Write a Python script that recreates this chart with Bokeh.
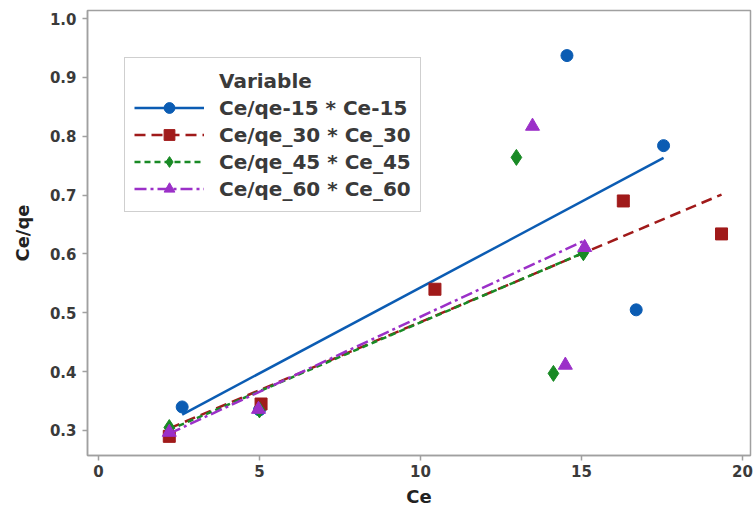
import numpy as np
from bokeh.plotting import figure
from bokeh.models import Range1d, FixedTicker, Legend, LegendItem, NumeralTickFormatter
from bokeh.embed import file_html
from bokeh.resources import INLINE

# Data
ce_15 = [2.6, 5.0, 14.55, 16.7, 17.55]
cq_15 = [0.340, 0.335, 0.937, 0.505, 0.784]
ce_30 = [2.2, 5.05, 10.45, 16.3, 19.35]
cq_30 = [0.290, 0.345, 0.540, 0.690, 0.634]
ce_45 = [2.2, 5.0, 12.98, 14.13, 15.06]
cq_45 = [0.305, 0.335, 0.764, 0.397, 0.602]
ce_60 = [2.2, 4.97, 13.48, 14.5, 15.1]
cq_60 = [0.297, 0.336, 0.817, 0.411, 0.611]
labels = ["Ce/qe-15 * Ce-15", "Ce/qe_30 * Ce_30", "Ce/qe_45 * Ce_45", "Ce/qe_60 * Ce_60"]
legend_title = "Variable"
x_ticks = [0, 5, 10, 15, 20]
y_ticks = [0.3, 0.4, 0.5, 0.6, 0.7, 0.8, 0.9, 1.0]

FONT = "DejaVu Sans"
TXT = "#3a3a3a"

p = figure(width=754, height=511, output_backend="svg", toolbar_location=None,
           x_range=Range1d(-0.34, 20.25), y_range=Range1d(0.2575, 1.0136),
           min_border_left=87, min_border_right=4, min_border_top=10, min_border_bottom=56)
p.xgrid.visible = False
p.ygrid.visible = False
p.outline_line_color = "#a0a0a0"
p.outline_line_width = 1.5

for ax in (p.xaxis[0], p.yaxis[0]):
    ax.axis_line_color = "#a0a0a0"
    ax.axis_line_width = 1.5
    ax.major_tick_line_color = "#a0a0a0"
    ax.major_tick_line_width = 1.5
    ax.major_tick_out = 5
    ax.major_tick_in = 0
    ax.minor_tick_line_color = None
    ax.major_label_text_font = FONT
    ax.major_label_text_font_style = "bold"
    ax.major_label_text_font_size = "15px"
    ax.major_label_text_color = TXT
    ax.axis_label_text_font = FONT
    ax.axis_label_text_font_style = "bold"
    ax.axis_label_text_font_size = "18px"
    ax.axis_label_text_color = "#222222"

p.xaxis.ticker = FixedTicker(ticks=x_ticks)
p.yaxis.ticker = FixedTicker(ticks=y_ticks)
p.yaxis.formatter = NumeralTickFormatter(format="0.0")
p.xaxis.axis_label = "Ce"
p.yaxis.axis_label = "Ce/qe"
p.yaxis.axis_label_standoff = 14
p.xaxis.axis_label_standoff = 6
p.xaxis.major_label_standoff = 4
p.yaxis.major_label_standoff = 6

series = [
    (ce_15, cq_15, "#0b5cb3", "solid", "circle", 12),
    (ce_30, cq_30, "#a01a1a", "11 6", "square", 12),
    (ce_45, cq_45, "#198a25", "6 4", "diamond", 16),
    (ce_60, cq_60, "#9b30c8", "12 4 3 4", "triangle", 14),
]

items = []
dummy = p.scatter([0], [0.5], size=1, alpha=0)
items.append(LegendItem(label=legend_title, renderers=[dummy]))
for (xs, ys, col, dash, mk, sz), lab in zip(series, labels):
    xs = np.array(xs); ys = np.array(ys)
    m, b = np.polyfit(xs, ys, 1)
    lx = np.array([xs.min(), xs.max()])
    lr = p.line(lx, m * lx + b, line_color=col, line_width=2.5, line_dash=dash)
    sr = p.scatter(xs, ys, marker=mk, size=sz, fill_color=col, line_color=col)
    items.append(LegendItem(label=lab, renderers=[lr, sr]))

legend = Legend(items=items, location=(37, 243))
legend.label_text_font = FONT
legend.label_text_font_style = "bold"
legend.label_text_font_size = "20px"
legend.label_text_color = TXT
legend.glyph_width = 70
legend.glyph_height = 27
legend.label_height = 27
legend.spacing = 0
legend.label_standoff = 15
legend.padding = 9
legend.border_line_color = "#a0a0a0"
legend.border_line_width = 1.5
legend.background_fill_color = "white"
legend.background_fill_alpha = 1
p.add_layout(legend)

open("out.html", "w").write(file_html(p, INLINE))
